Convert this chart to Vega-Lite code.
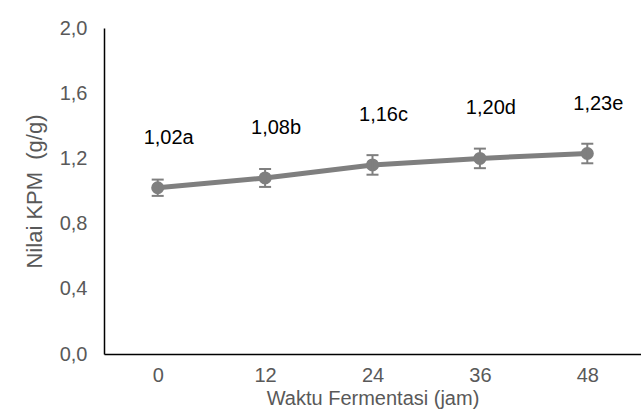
{
  "$schema": "https://vega.github.io/schema/vega-lite/v6.json",
  "width": 537,
  "height": 326,
  "autosize": {"type": "none"},
  "padding": {"left": 104, "top": 28, "right": 0, "bottom": 60},
  "config": {
    "view": {"stroke": null},
    "font": "Liberation Sans"
  },
  "data": {
    "values": [
      {"jam": "0", "kpm": 1.02, "lo": 0.97, "hi": 1.07, "label": "1,02a"},
      {"jam": "12", "kpm": 1.08, "lo": 1.025, "hi": 1.135, "label": "1,08b"},
      {"jam": "24", "kpm": 1.16, "lo": 1.10, "hi": 1.22, "label": "1,16c"},
      {"jam": "36", "kpm": 1.20, "lo": 1.14, "hi": 1.26, "label": "1,20d"},
      {"jam": "48", "kpm": 1.23, "lo": 1.17, "hi": 1.29, "label": "1,23e"}
    ]
  },
  "encoding": {
    "x": {
      "field": "jam", "type": "ordinal", "sort": null,
      "scale": {"type": "point", "padding": 0.5},
      "axis": {
        "title": "Waktu Fermentasi (jam)", "labelAngle": 0, "ticks": false,
        "domainColor": "#000000", "domainWidth": 1.5,
        "labelColor": "#595959", "labelFontSize": 20, "labelPadding": 11,
        "titleColor": "#595959", "titleFontSize": 20, "titleFontWeight": "normal", "titlePadding": 3
      }
    }
  },
  "layer": [
    {
      "mark": {"type": "line", "color": "#7f7f7f", "strokeWidth": 5},
      "encoding": {
        "y": {
          "field": "kpm", "type": "quantitative",
          "scale": {"domain": [0, 2]},
          "axis": {
            "title": "Nilai KPM\u00a0\u00a0(g/g)", "values": [0, 0.4, 0.8, 1.2, 1.6, 2.0],
            "labelExpr": "replace(format(datum.value, '.1f'), '.', ',')",
            "grid": false, "ticks": false,
            "domainColor": "#000000", "domainWidth": 1.5,
            "labelColor": "#595959", "labelFontSize": 20, "labelPadding": 17,
            "titleColor": "#595959", "titleFontSize": 22, "titleFontWeight": "normal", "titlePadding": 13
          }
        }
      }
    },
    {
      "mark": {"type": "point", "filled": true, "color": "#7f7f7f", "size": 170, "opacity": 1},
      "encoding": {"y": {"field": "kpm", "type": "quantitative"}}
    },
    {
      "mark": {"type": "rule", "color": "#7f7f7f", "strokeWidth": 2},
      "encoding": {"y": {"field": "lo", "type": "quantitative"}, "y2": {"field": "hi"}}
    },
    {
      "mark": {"type": "tick", "color": "#7f7f7f", "thickness": 2, "size": 12, "orient": "horizontal", "opacity": 1},
      "encoding": {"y": {"field": "lo", "type": "quantitative"}}
    },
    {
      "mark": {"type": "tick", "color": "#7f7f7f", "thickness": 2, "size": 12, "orient": "horizontal", "opacity": 1},
      "encoding": {"y": {"field": "hi", "type": "quantitative"}}
    },
    {
      "mark": {"type": "text", "color": "#000000", "fontSize": 20, "dx": 11, "dy": -50},
      "encoding": {
        "y": {"field": "kpm", "type": "quantitative"},
        "text": {"field": "label"}
      }
    }
  ]
}
